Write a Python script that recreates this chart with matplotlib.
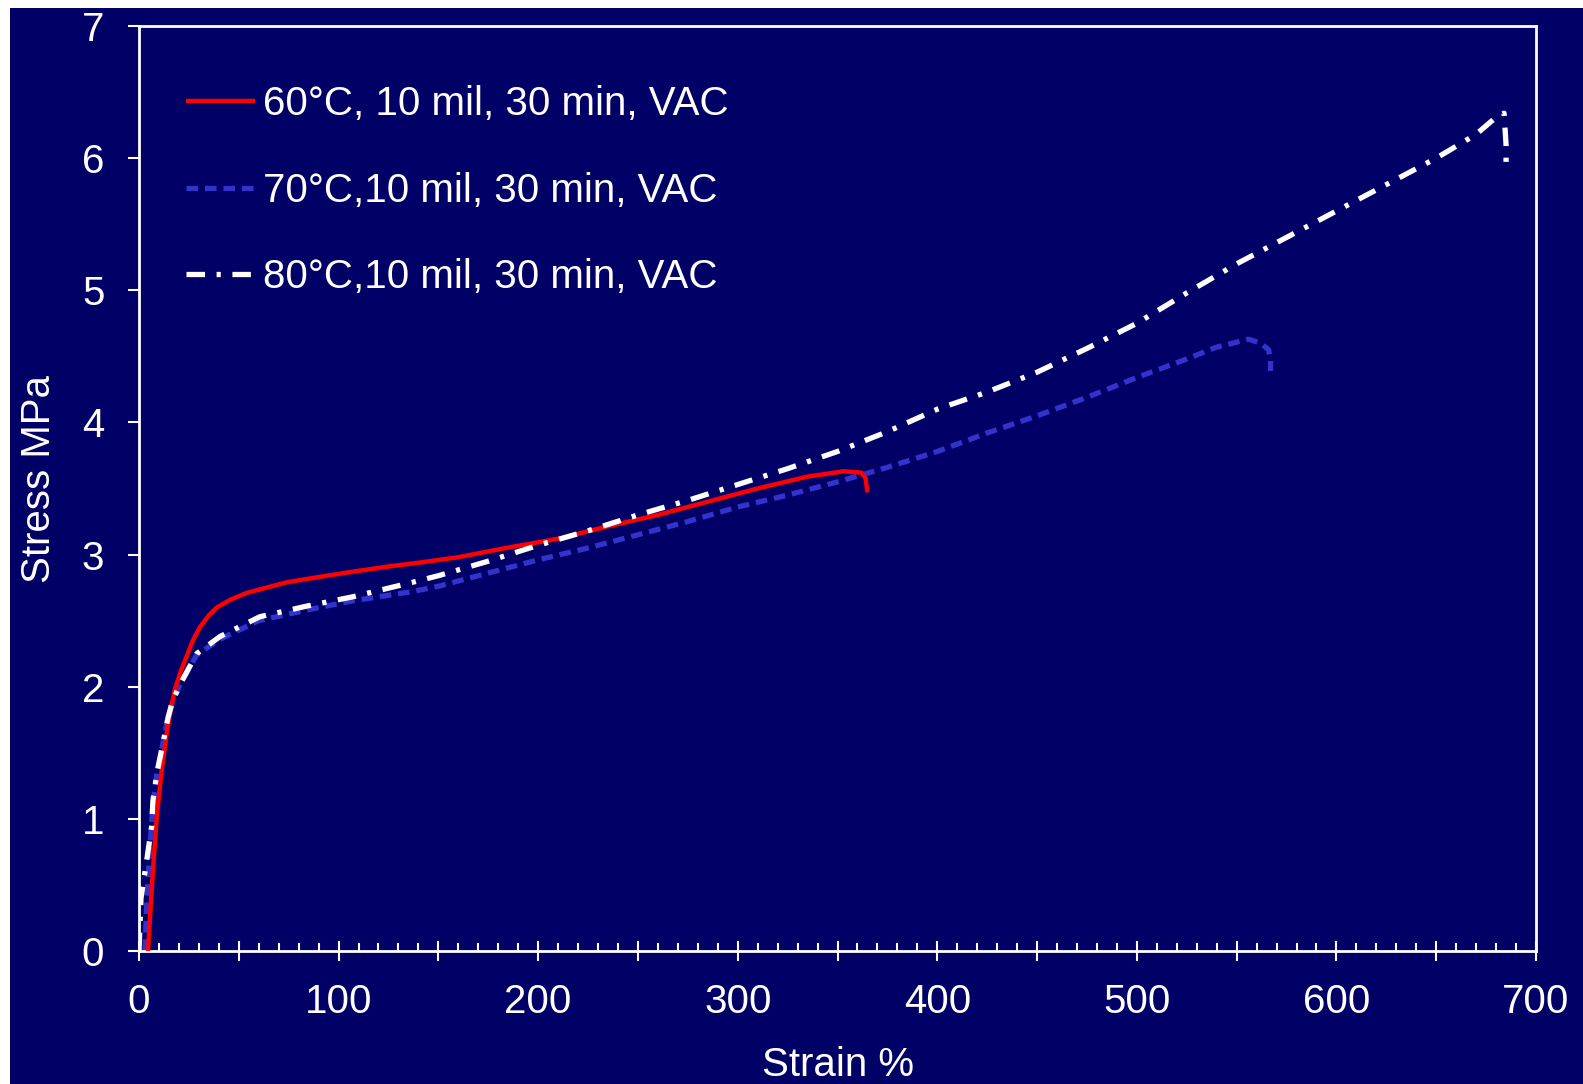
import matplotlib.pyplot as plt
from matplotlib.patches import Rectangle
from matplotlib.ticker import MultipleLocator, FuncFormatter

NAVY = "#000066"

plt.rcParams["font.family"] = ["Liberation Sans", "DejaVu Sans"]

# 60°C curve
red_x = [4.5, 6.5, 8.9, 11.5, 13.9, 16, 18, 21, 23.9, 27, 30.5, 35, 39, 46, 54, 64, 74,
         90, 107, 125, 141, 160, 184, 210, 234, 260, 285, 310, 335, 353, 362, 364, 365]
red_y = [0, 0.5, 1.02, 1.38, 1.65, 1.83, 1.98, 2.12, 2.23, 2.35, 2.45, 2.54, 2.60, 2.66,
         2.71, 2.75, 2.79, 2.83, 2.87, 2.91, 2.94, 2.98, 3.05, 3.12, 3.21, 3.30, 3.40,
         3.50, 3.59, 3.63, 3.62, 3.58, 3.47]

# 70°C curve
blue_x = [3, 4, 5.5, 7, 9, 11.3, 14.6, 17, 21.4, 28.9, 40.6, 60, 84, 107, 137, 150, 175,
          200, 225, 250, 275, 300, 325, 350, 375, 400, 425, 450, 475, 500, 525, 540, 556,
          562, 566, 567, 567]
blue_y = [0, 0.4, 0.8, 1.1, 1.35, 1.52, 1.77, 1.90, 2.04, 2.24, 2.36, 2.50, 2.58, 2.65,
          2.72, 2.76, 2.86, 2.96, 3.05, 3.15, 3.25, 3.36, 3.45, 3.55, 3.66, 3.78, 3.92,
          4.05, 4.19, 4.34, 4.48, 4.57, 4.63, 4.60, 4.55, 4.47, 4.39]

# 80°C curve
white_x = [0, 0.5, 1, 1.5, 2.5, 4, 6.3, 7, 9, 11.3, 14.6, 17, 21.4, 28.9, 40.6, 60.6, 84,
           107, 137, 150, 175, 200, 225, 250, 275, 300, 325, 350, 375, 400, 425, 450, 475,
           500, 525, 550, 575, 600, 625, 650, 670, 680, 684, 685, 685]
white_y = [0, 0.2, 0.4, 0.45, 0.55, 0.7, 0.94, 1.14, 1.35, 1.52, 1.77, 1.90, 2.04, 2.25,
           2.38, 2.53, 2.61, 2.68, 2.79, 2.84, 2.95, 3.07, 3.18, 3.30, 3.41, 3.53, 3.65,
           3.78, 3.93, 4.10, 4.23, 4.38, 4.56, 4.75, 4.98, 5.20, 5.40, 5.60, 5.80, 6.00,
           6.18, 6.31, 6.34, 6.10, 5.93]

labels = ["60°C, 10 mil, 30 min, VAC", "70°C,10 mil, 30 min, VAC", "80°C,10 mil, 30 min, VAC"]

fig = plt.figure(figsize=(15.83, 10.84), dpi=100)
fig.patch.set_facecolor("white")
fig.patches.append(Rectangle((10 / 1583, 0), 1, 1 - 8 / 1084, transform=fig.transFigure,
                             facecolor=NAVY, edgecolor="none", zorder=-10))

ax = fig.add_axes([139 / 1583, 1 - 951 / 1084, (1536 - 139) / 1583, (951 - 26) / 1084])
ax.set_facecolor(NAVY)

ax.plot(red_x, red_y, color="#ff0000", lw=3.2, solid_capstyle="butt", label=labels[0], zorder=3)
ax.plot(blue_x, blue_y, color="#3333cc", lw=3.8, linestyle=(0, (2.2, 1.3)),
        label=labels[1], zorder=2)
ax.plot(white_x, white_y, color="white", lw=3.8, linestyle=(0, (3.5, 2.2, 0.8, 2.2)),
        label=labels[2], zorder=4)

ax.set_xlim(0, 700)
ax.set_ylim(0, 7)

ax.xaxis.set_major_locator(MultipleLocator(50))
ax.xaxis.set_minor_locator(MultipleLocator(10))
ax.xaxis.set_major_formatter(FuncFormatter(lambda v, _: f"{int(v)}" if int(v) % 100 == 0 else ""))
ax.yaxis.set_major_locator(MultipleLocator(1))

ax.tick_params(axis="x", which="major", direction="inout", length=14, width=1.5,
               colors="white", labelsize=29, pad=16)
ax.tick_params(axis="x", which="minor", direction="in", length=6, width=1.5, colors="white")
ax.tick_params(axis="y", which="major", direction="out", length=8, width=1.5,
               colors="white", labelsize=29, pad=17)

for sp in ax.spines.values():
    sp.set_color("white")
    sp.set_linewidth(2)

ax.set_xlabel("Strain %", color="white", fontsize=29, labelpad=18)
ax.set_ylabel("Stress MPa", color="white", fontsize=29)
ax.yaxis.set_label_coords(-0.058, 0.51)

leg = ax.legend(loc="upper left", bbox_to_anchor=(0.008, 0.975), frameon=False,
                fontsize=29, handlelength=1.7, handletextpad=0.2, labelspacing=1.2)
for t in leg.get_texts():
    t.set_color("white")

fig.savefig("out.png", dpi=100, facecolor=fig.get_facecolor())
